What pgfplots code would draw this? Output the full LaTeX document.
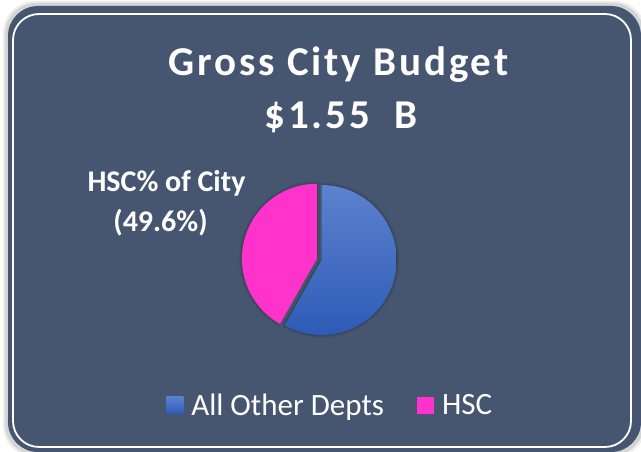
\documentclass[border=0pt]{standalone}
\usepackage{pgfplots}
\pgfplotsset{compat=1.18}
\usepgfplotslibrary{polar}
\usepackage{pgfplotstable}
\usepackage{fontspec}
\setmainfont{Carlito}
\newfontfamily\titlefont{Carlito}[LetterSpace=7]

\definecolor{slate}{HTML}{475670}
\definecolor{hscpink}{HTML}{FF33CC}
\definecolor{bluetop}{HTML}{5C82CF}
\definecolor{bluebot}{HTML}{2E5BB7}

% pie shares: All Other Depts 58.2%, HSC 41.8%
% slices start at 12 o'clock; boundary at 90 + 0.418*360 = 240.5 deg
\pgfplotstableread{
a r
0 0
-119.5 1
-115 1
-110 1
-105 1
-100 1
-95 1
-90 1
-85 1
-80 1
-75 1
-70 1
-65 1
-60 1
-55 1
-50 1
-45 1
-40 1
-35 1
-30 1
-25 1
-20 1
-15 1
-10 1
-5 1
0 1
5 1
10 1
15 1
20 1
25 1
30 1
35 1
40 1
45 1
50 1
55 1
60 1
65 1
70 1
75 1
80 1
85 1
90 1
}\otherslice

\pgfplotstableread{
a r
0 0
90 1
95 1
100 1
105 1
110 1
115 1
120 1
125 1
130 1
135 1
140 1
145 1
150 1
155 1
160 1
165 1
170 1
175 1
180 1
185 1
190 1
195 1
200 1
205 1
210 1
215 1
220 1
225 1
230 1
235 1
240 1
240.5 1
}\hscslice

\begin{document}
\begin{tikzpicture}[x=1pt,y=1pt]
\path[use as bounding box] (0,0) rectangle (641,452);
\fill[white] (0,0) rectangle (641,452);
% soft edge round the panel
\fill[black!45, opacity=0.15, rounded corners=32] (3,-5) rectangle (646,451);
\fill[black!45, opacity=0.25, rounded corners=31] (5,-3) rectangle (644,449);
\fill[slate, rounded corners=30] (8,0) rectangle (641,446);
\draw[white, line width=1.8, rounded corners=26] (13,5) rectangle (631,438);

\node[text=white, font=\titlefont\bfseries\fontsize{41}{48}\selectfont, anchor=base] at (338.5,376) {Gross City Budget};
\node[text=white, font=\titlefont\bfseries\fontsize{41}{48}\selectfont, anchor=base] at (341,323) {\$1.55\ \ B};

\node[text=white, font=\bfseries\fontsize{30}{36}\selectfont, anchor=base] at (166.5,260) {HSC\% of City};
\node[text=white, font=\bfseries\fontsize{30}{36}\selectfont, anchor=base] at (160.5,220) {(49.6\%)};

\begin{polaraxis}[
    at={(321.7pt,192pt)}, anchor=origin,
    hide axis, scale only axis, clip=false,
    width=150pt, height=150pt,
    ymin=0, ymax=1,
    legend columns=2,
    legend style={at={(0.557,-0.467)}, anchor=center, draw=none, fill=none,
        text=white, font=\fontsize{31}{37}\selectfont,
        /tikz/every odd column/.append style={column sep=6pt},
        /tikz/every even column/.append style={column sep=31pt}},
]
% shadow
\addplot[forget plot, fill=black, draw=black, line width=6pt, opacity=0.06, line join=round] table[x=a,y=r] {\otherslice};
\addplot[forget plot, fill=black, draw=black, line width=3pt, opacity=0.10, line join=round] table[x=a,y=r] {\otherslice};
\addplot[forget plot, fill=black, draw=black, line width=6pt, opacity=0.06, line join=round, shift={(165:5pt)}] table[x=a,y=r] {\hscslice};
\addplot[forget plot, fill=black, draw=black, line width=3pt, opacity=0.10, line join=round, shift={(165:5pt)}] table[x=a,y=r] {\hscslice};
% slices
\addplot[forget plot, draw=none, top color=bluetop, bottom color=bluebot] table[x=a,y=r] {\otherslice};
\addplot[forget plot, draw=none, fill=hscpink, shift={(165:5pt)}] table[x=a,y=r] {\hscslice};

\addlegendimage{legend image code/.code={\path[draw=none, top color=bluetop, bottom color=bluebot] (0pt,-8.5pt) rectangle (17pt,8.5pt);}}
\addlegendentry{All Other Depts}
\addlegendimage{legend image code/.code={\path[draw=none, fill=hscpink] (0pt,-8.5pt) rectangle (17pt,8.5pt);}}
\addlegendentry{HSC}
\end{polaraxis}
\end{tikzpicture}
\end{document}
